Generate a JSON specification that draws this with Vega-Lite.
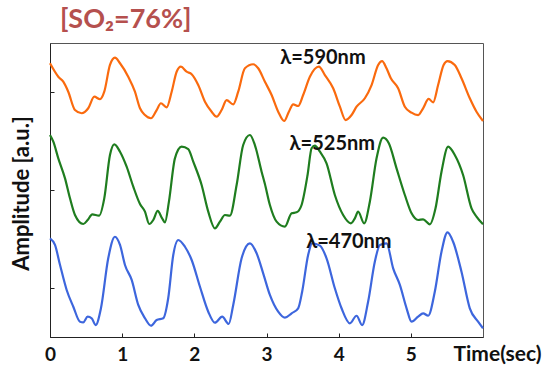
{
  "$schema": "https://vega.github.io/schema/vega-lite/v6.json",
  "width": 433,
  "height": 294,
  "autosize": {"type": "none"},
  "padding": {"left": 50, "top": 43, "right": 70, "bottom": 28},
  "background": "white",
  "title": {
    "text": "[SO₂=76%]",
    "anchor": "start",
    "frame": "group",
    "dx": 10,
    "offset": 11,
    "dy": 23,
    "baseline": "alphabetic",
    "font": "Lato",
    "fontSize": 27,
    "fontWeight": "bold",
    "color": "#b5504e"
  },
  "config": {
    "view": {"stroke": "#555", "strokeWidth": 1},
    "axis": {"grid": false, "domainColor": "#222", "tickColor": "#222", "labelFont": "Lato", "titleFont": "Lato"}
  },
  "datasets": {
    "labels": [
      {"series": "590", "t": 3.19, "a": 2.85, "text": "λ=590nm"},
      {"series": "525", "t": 3.32, "a": 1.97, "text": "λ=525nm"},
      {"series": "470", "t": 3.55, "a": 0.97, "text": "λ=470nm"}
    ],
    "waves": [
      {"series": "590", "t": 0, "a": 2.793},
      {"series": "590", "t": 0.115, "a": 2.656},
      {"series": "590", "t": 0.184, "a": 2.605},
      {"series": "590", "t": 0.253, "a": 2.503},
      {"series": "590", "t": 0.346, "a": 2.316},
      {"series": "590", "t": 0.439, "a": 2.283},
      {"series": "590", "t": 0.53, "a": 2.334},
      {"series": "590", "t": 0.614, "a": 2.452},
      {"series": "590", "t": 0.693, "a": 2.426},
      {"series": "590", "t": 0.752, "a": 2.503},
      {"series": "590", "t": 0.831, "a": 2.776},
      {"series": "590", "t": 0.9, "a": 2.85},
      {"series": "590", "t": 0.97, "a": 2.793},
      {"series": "590", "t": 1.084, "a": 2.656},
      {"series": "590", "t": 1.177, "a": 2.503},
      {"series": "590", "t": 1.247, "a": 2.334},
      {"series": "590", "t": 1.316, "a": 2.265},
      {"series": "590", "t": 1.399, "a": 2.232},
      {"series": "590", "t": 1.478, "a": 2.316},
      {"series": "590", "t": 1.537, "a": 2.385},
      {"series": "590", "t": 1.616, "a": 2.344},
      {"series": "590", "t": 1.686, "a": 2.503},
      {"series": "590", "t": 1.755, "a": 2.707},
      {"series": "590", "t": 1.814, "a": 2.758},
      {"series": "590", "t": 1.893, "a": 2.707},
      {"series": "590", "t": 1.963, "a": 2.681},
      {"series": "590", "t": 2.054, "a": 2.571},
      {"series": "590", "t": 2.147, "a": 2.401},
      {"series": "590", "t": 2.24, "a": 2.299},
      {"series": "590", "t": 2.309, "a": 2.248},
      {"series": "590", "t": 2.378, "a": 2.316},
      {"series": "590", "t": 2.447, "a": 2.418},
      {"series": "590", "t": 2.539, "a": 2.374},
      {"series": "590", "t": 2.608, "a": 2.503},
      {"series": "590", "t": 2.701, "a": 2.742},
      {"series": "590", "t": 2.816, "a": 2.783},
      {"series": "590", "t": 2.885, "a": 2.742},
      {"series": "590", "t": 2.978, "a": 2.605},
      {"series": "590", "t": 3.071, "a": 2.469},
      {"series": "590", "t": 3.162, "a": 2.299},
      {"series": "590", "t": 3.245, "a": 2.204},
      {"series": "590", "t": 3.31, "a": 2.299},
      {"series": "590", "t": 3.37, "a": 2.374},
      {"series": "590", "t": 3.439, "a": 2.357},
      {"series": "590", "t": 3.508, "a": 2.469},
      {"series": "590", "t": 3.601, "a": 2.656},
      {"series": "590", "t": 3.726, "a": 2.758},
      {"series": "590", "t": 3.809, "a": 2.673},
      {"series": "590", "t": 3.924, "a": 2.538},
      {"series": "590", "t": 4.017, "a": 2.35},
      {"series": "590", "t": 4.096, "a": 2.214},
      {"series": "590", "t": 4.179, "a": 2.265},
      {"series": "590", "t": 4.248, "a": 2.35},
      {"series": "590", "t": 4.363, "a": 2.436},
      {"series": "590", "t": 4.456, "a": 2.571},
      {"series": "590", "t": 4.547, "a": 2.776},
      {"series": "590", "t": 4.602, "a": 2.816},
      {"series": "590", "t": 4.663, "a": 2.742},
      {"series": "590", "t": 4.723, "a": 2.64},
      {"series": "590", "t": 4.824, "a": 2.538},
      {"series": "590", "t": 4.917, "a": 2.35},
      {"series": "590", "t": 5.01, "a": 2.289},
      {"series": "590", "t": 5.101, "a": 2.265},
      {"series": "590", "t": 5.17, "a": 2.334},
      {"series": "590", "t": 5.247, "a": 2.429},
      {"series": "590", "t": 5.309, "a": 2.395},
      {"series": "590", "t": 5.378, "a": 2.571},
      {"series": "590", "t": 5.454, "a": 2.776},
      {"series": "590", "t": 5.508, "a": 2.816},
      {"series": "590", "t": 5.609, "a": 2.776},
      {"series": "590", "t": 5.702, "a": 2.64},
      {"series": "590", "t": 5.817, "a": 2.436},
      {"series": "590", "t": 5.91, "a": 2.299},
      {"series": "590", "t": 6.0, "a": 2.204},

      {"series": "525", "t": 0, "a": 2.061},
      {"series": "525", "t": 0.046, "a": 1.993},
      {"series": "525", "t": 0.115, "a": 1.823},
      {"series": "525", "t": 0.208, "a": 1.619},
      {"series": "525", "t": 0.277, "a": 1.415},
      {"series": "525", "t": 0.346, "a": 1.245},
      {"series": "525", "t": 0.461, "a": 1.153},
      {"series": "525", "t": 0.522, "a": 1.194},
      {"series": "525", "t": 0.586, "a": 1.252},
      {"series": "525", "t": 0.679, "a": 1.238},
      {"series": "525", "t": 0.752, "a": 1.415},
      {"series": "525", "t": 0.831, "a": 1.857},
      {"series": "525", "t": 0.891, "a": 1.966},
      {"series": "525", "t": 0.97, "a": 1.891},
      {"series": "525", "t": 1.062, "a": 1.738},
      {"series": "525", "t": 1.154, "a": 1.534},
      {"series": "525", "t": 1.247, "a": 1.357},
      {"series": "525", "t": 1.316, "a": 1.279},
      {"series": "525", "t": 1.375, "a": 1.153},
      {"series": "525", "t": 1.431, "a": 1.194},
      {"series": "525", "t": 1.492, "a": 1.286},
      {"series": "525", "t": 1.554, "a": 1.211},
      {"series": "525", "t": 1.593, "a": 1.17},
      {"series": "525", "t": 1.648, "a": 1.381},
      {"series": "525", "t": 1.731, "a": 1.823},
      {"series": "525", "t": 1.824, "a": 1.942},
      {"series": "525", "t": 1.916, "a": 1.918},
      {"series": "525", "t": 1.985, "a": 1.789},
      {"series": "525", "t": 2.101, "a": 1.551},
      {"series": "525", "t": 2.193, "a": 1.279},
      {"series": "525", "t": 2.285, "a": 1.109},
      {"series": "525", "t": 2.355, "a": 1.177},
      {"series": "525", "t": 2.424, "a": 1.245},
      {"series": "525", "t": 2.493, "a": 1.238},
      {"series": "525", "t": 2.586, "a": 1.551},
      {"series": "525", "t": 2.677, "a": 1.959},
      {"series": "525", "t": 2.77, "a": 2.061},
      {"series": "525", "t": 2.839, "a": 1.959},
      {"series": "525", "t": 2.932, "a": 1.687},
      {"series": "525", "t": 2.978, "a": 1.561},
      {"series": "525", "t": 3.047, "a": 1.347},
      {"series": "525", "t": 3.14, "a": 1.177},
      {"series": "525", "t": 3.255, "a": 1.126},
      {"series": "525", "t": 3.348, "a": 1.262},
      {"series": "525", "t": 3.417, "a": 1.272},
      {"series": "525", "t": 3.486, "a": 1.347},
      {"series": "525", "t": 3.569, "a": 1.653},
      {"series": "525", "t": 3.625, "a": 1.926},
      {"series": "525", "t": 3.67, "a": 1.952},
      {"series": "525", "t": 3.74, "a": 1.891},
      {"series": "525", "t": 3.832, "a": 1.772},
      {"series": "525", "t": 3.947, "a": 1.449},
      {"series": "525", "t": 4.062, "a": 1.245},
      {"series": "525", "t": 4.169, "a": 1.16},
      {"series": "525", "t": 4.224, "a": 1.211},
      {"series": "525", "t": 4.27, "a": 1.279},
      {"series": "525", "t": 4.353, "a": 1.16},
      {"series": "525", "t": 4.432, "a": 1.381},
      {"series": "525", "t": 4.525, "a": 1.823},
      {"series": "525", "t": 4.616, "a": 2.034},
      {"series": "525", "t": 4.695, "a": 1.977},
      {"series": "525", "t": 4.802, "a": 1.721},
      {"series": "525", "t": 4.917, "a": 1.449},
      {"series": "525", "t": 5.01, "a": 1.262},
      {"series": "525", "t": 5.101, "a": 1.194},
      {"series": "525", "t": 5.17, "a": 1.201},
      {"series": "525", "t": 5.263, "a": 1.15},
      {"series": "525", "t": 5.342, "a": 1.313},
      {"series": "525", "t": 5.425, "a": 1.687},
      {"series": "525", "t": 5.517, "a": 1.942},
      {"series": "525", "t": 5.609, "a": 1.857},
      {"series": "525", "t": 5.724, "a": 1.653},
      {"series": "525", "t": 5.841, "a": 1.313},
      {"series": "525", "t": 5.91, "a": 1.228},
      {"series": "525", "t": 6.0, "a": 1.15},

      {"series": "470", "t": 0, "a": 1.007},
      {"series": "470", "t": 0.069, "a": 0.939},
      {"series": "470", "t": 0.139, "a": 0.735},
      {"series": "470", "t": 0.231, "a": 0.48},
      {"series": "470", "t": 0.323, "a": 0.309},
      {"series": "470", "t": 0.416, "a": 0.156},
      {"series": "470", "t": 0.461, "a": 0.15},
      {"series": "470", "t": 0.522, "a": 0.207},
      {"series": "470", "t": 0.578, "a": 0.191},
      {"series": "470", "t": 0.633, "a": 0.122},
      {"series": "470", "t": 0.706, "a": 0.293},
      {"series": "470", "t": 0.807, "a": 0.803},
      {"series": "470", "t": 0.9, "a": 1.023},
      {"series": "470", "t": 0.97, "a": 0.939},
      {"series": "470", "t": 1.039, "a": 0.735},
      {"series": "470", "t": 1.132, "a": 0.582},
      {"series": "470", "t": 1.223, "a": 0.327},
      {"series": "470", "t": 1.316, "a": 0.191},
      {"series": "470", "t": 1.399, "a": 0.115},
      {"series": "470", "t": 1.478, "a": 0.173},
      {"series": "470", "t": 1.569, "a": 0.191},
      {"series": "470", "t": 1.638, "a": 0.395},
      {"series": "470", "t": 1.708, "a": 0.837},
      {"series": "470", "t": 1.777, "a": 0.99},
      {"series": "470", "t": 1.87, "a": 0.921},
      {"series": "470", "t": 1.963, "a": 0.786},
      {"series": "470", "t": 2.078, "a": 0.513},
      {"series": "470", "t": 2.193, "a": 0.258},
      {"series": "470", "t": 2.285, "a": 0.146},
      {"series": "470", "t": 2.386, "a": 0.207},
      {"series": "470", "t": 2.476, "a": 0.133},
      {"series": "470", "t": 2.539, "a": 0.327},
      {"series": "470", "t": 2.655, "a": 0.803},
      {"series": "470", "t": 2.77, "a": 0.956},
      {"series": "470", "t": 2.863, "a": 0.854},
      {"series": "470", "t": 2.954, "a": 0.65},
      {"series": "470", "t": 3.047, "a": 0.429},
      {"series": "470", "t": 3.162, "a": 0.258},
      {"series": "470", "t": 3.255, "a": 0.197},
      {"series": "470", "t": 3.348, "a": 0.242},
      {"series": "470", "t": 3.439, "a": 0.293},
      {"series": "470", "t": 3.494, "a": 0.462},
      {"series": "470", "t": 3.577, "a": 0.837},
      {"series": "470", "t": 3.633, "a": 0.956},
      {"series": "470", "t": 3.74, "a": 0.932},
      {"series": "470", "t": 3.832, "a": 0.803},
      {"series": "470", "t": 3.947, "a": 0.497},
      {"series": "470", "t": 4.04, "a": 0.293},
      {"series": "470", "t": 4.155, "a": 0.14},
      {"series": "470", "t": 4.248, "a": 0.217},
      {"series": "470", "t": 4.325, "a": 0.122},
      {"series": "470", "t": 4.408, "a": 0.36},
      {"series": "470", "t": 4.501, "a": 0.768},
      {"series": "470", "t": 4.571, "a": 0.939},
      {"series": "470", "t": 4.663, "a": 0.956},
      {"series": "470", "t": 4.755, "a": 0.701},
      {"series": "470", "t": 4.848, "a": 0.531},
      {"series": "470", "t": 4.941, "a": 0.293},
      {"series": "470", "t": 5.01, "a": 0.156},
      {"series": "470", "t": 5.101, "a": 0.207},
      {"series": "470", "t": 5.17, "a": 0.242},
      {"series": "470", "t": 5.24, "a": 0.217},
      {"series": "470", "t": 5.332, "a": 0.462},
      {"series": "470", "t": 5.425, "a": 0.87},
      {"series": "470", "t": 5.508, "a": 1.068},
      {"series": "470", "t": 5.586, "a": 0.972},
      {"series": "470", "t": 5.702, "a": 0.666},
      {"series": "470", "t": 5.817, "a": 0.293},
      {"series": "470", "t": 5.932, "a": 0.156},
      {"series": "470", "t": 6.0, "a": 0.089}
    ]
  },
  "layer": [
    {
      "data": {"name": "waves"},
      "mark": {"type": "line", "interpolate": "monotone", "strokeWidth": 2.2},
      "encoding": {
        "x": {
          "field": "t", "type": "quantitative",
          "scale": {"domain": [0, 6], "nice": false, "zero": false},
          "axis": {
            "values": [0, 1, 2, 3, 4, 5],
            "format": "d",
            "tickSize": -4,
            "labelFontSize": 19,
            "labelFontWeight": "bold",
            "labelColor": "#111",
            "labelPadding": 12,
            "labelFlush": false,
            "title": "Time(sec)",
            "titleFontSize": 21,
            "titleFontWeight": "bold",
            "titleColor": "#111",
            "titleAlign": "left",
            "titleBaseline": "alphabetic",
            "titleX": 403,
            "titleY": 23
          }
        },
        "y": {
          "field": "a", "type": "quantitative",
          "scale": {"domain": [0, 3], "nice": false, "zero": false},
          "axis": {
            "values": [0.5, 1.5, 2.5],
            "tickSize": -4,
            "labels": false,
            "title": "Amplitude [a.u.]",
            "titleFontSize": 22,
            "titleFontWeight": "bold",
            "titleColor": "#111",
            "titleAngle": 270,
            "titleAlign": "center",
            "titleBaseline": "middle",
            "titleX": -29,
            "titleY": 150
          }
        },
        "color": {
          "field": "series", "type": "nominal",
          "scale": {"domain": ["590", "525", "470"], "range": ["#fa6a0e", "#1f7d1f", "#3d66dd"]},
          "legend": null
        },
        "detail": {"field": "series"}
      }
    },
    {
      "data": {"name": "labels"},
      "mark": {"type": "text", "align": "left", "baseline": "middle", "font": "Lato", "fontSize": 20, "fontWeight": "bold", "color": "#111"},
      "encoding": {
        "x": {"field": "t", "type": "quantitative"},
        "y": {"field": "a", "type": "quantitative"},
        "text": {"field": "text"}
      }
    }
  ]
}
